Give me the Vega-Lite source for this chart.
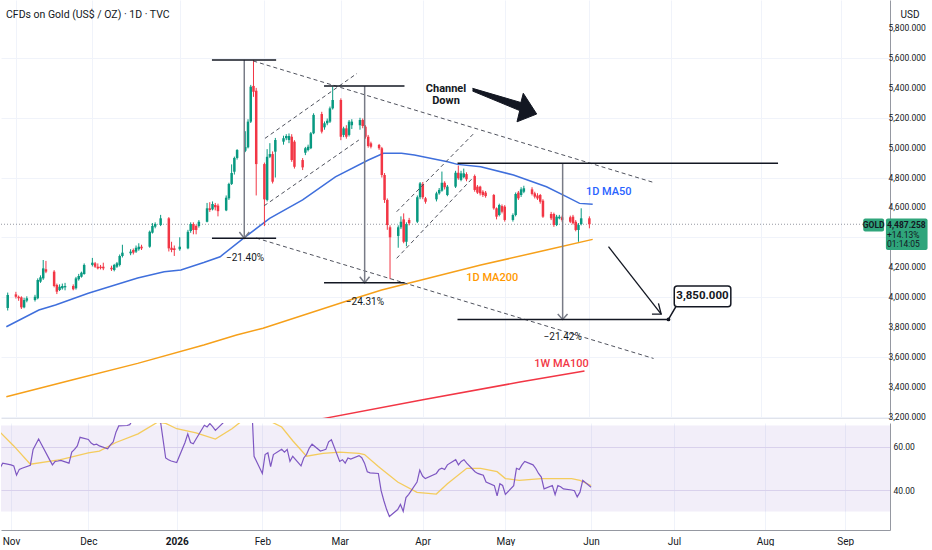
{
  "$schema": "https://vega.github.io/schema/vega-lite/v6.json",
  "padding": 0,
  "background": "#ffffff",
  "spacing": 1,
  "title": {"text": "CFDs on Gold (US$ / OZ) · 1D · TVC", "anchor": "start", "frame": "group", "offset": -20, "dx": 5, "fontSize": 10.5, "fontWeight": "normal", "color": "#131722", "font": "Roboto"},
  "config": {
    "view": {"stroke": null},
    "font": "Roboto",
    "axis": {"labelFont": "Roboto", "labelColor": "#131722", "labelFontSize": 8.5, "labelOverlap": false, "ticks": false, "gridColor": "#f0f3fa", "gridWidth": 1, "domainColor": "#9598a1", "title": null}
  },
  "datasets": {
    "candles": [
      {"t":"2025-10-31T00:00","o":3927,"h":4030,"l":3910,"c":4014},
      {"t":"2025-11-03T00:00","o":4018,"h":4035,"l":3990,"c":4002},
      {"t":"2025-11-04T00:00","o":4002,"h":4010,"l":3975,"c":3992},
      {"t":"2025-11-05T00:00","o":3998,"h":4005,"l":3920,"c":3931},
      {"t":"2025-11-06T00:00","o":3931,"h":3995,"l":3925,"c":3980},
      {"t":"2025-11-07T00:00","o":3976,"h":4005,"l":3965,"c":3992},
      {"t":"2025-11-10T00:00","o":3980,"h":4015,"l":3970,"c":4002},
      {"t":"2025-11-11T00:00","o":3992,"h":4125,"l":3985,"c":4114},
      {"t":"2025-11-12T00:00","o":4103,"h":4145,"l":4095,"c":4132},
      {"t":"2025-11-13T00:00","o":4125,"h":4248,"l":4115,"c":4192},
      {"t":"2025-11-14T00:00","o":4186,"h":4242,"l":4160,"c":4170},
      {"t":"2025-11-17T00:00","o":4170,"h":4180,"l":4065,"c":4074},
      {"t":"2025-11-18T00:00","o":4081,"h":4090,"l":4020,"c":4036},
      {"t":"2025-11-19T00:00","o":4047,"h":4085,"l":4040,"c":4069},
      {"t":"2025-11-20T00:00","o":4059,"h":4090,"l":4050,"c":4074},
      {"t":"2025-11-21T00:00","o":4065,"h":4095,"l":4045,"c":4074},
      {"t":"2025-11-24T00:00","o":4074,"h":4085,"l":4045,"c":4052},
      {"t":"2025-11-25T00:00","o":4059,"h":4135,"l":4050,"c":4125},
      {"t":"2025-11-26T00:00","o":4119,"h":4155,"l":4110,"c":4141},
      {"t":"2025-11-27T00:00","o":4136,"h":4170,"l":4130,"c":4163},
      {"t":"2025-11-28T00:00","o":4154,"h":4225,"l":4150,"c":4215},
      {"t":"2025-12-01T00:00","o":4215,"h":4262,"l":4205,"c":4230},
      {"t":"2025-12-02T00:00","o":4226,"h":4235,"l":4195,"c":4203},
      {"t":"2025-12-03T00:00","o":4203,"h":4225,"l":4185,"c":4192},
      {"t":"2025-12-04T00:00","o":4203,"h":4215,"l":4185,"c":4194},
      {"t":"2025-12-05T00:00","o":4203,"h":4230,"l":4180,"c":4192},
      {"t":"2025-12-08T00:00","o":4196,"h":4210,"l":4175,"c":4186},
      {"t":"2025-12-09T00:00","o":4181,"h":4222,"l":4172,"c":4215},
      {"t":"2025-12-10T00:00","o":4203,"h":4235,"l":4195,"c":4226},
      {"t":"2025-12-11T00:00","o":4215,"h":4285,"l":4205,"c":4275},
      {"t":"2025-12-12T00:00","o":4275,"h":4350,"l":4265,"c":4297},
      {"t":"2025-12-15T00:00","o":4293,"h":4320,"l":4280,"c":4304},
      {"t":"2025-12-16T00:00","o":4315,"h":4325,"l":4285,"c":4297},
      {"t":"2025-12-17T00:00","o":4304,"h":4345,"l":4295,"c":4330},
      {"t":"2025-12-18T00:00","o":4320,"h":4360,"l":4310,"c":4337},
      {"t":"2025-12-19T00:00","o":4337,"h":4350,"l":4315,"c":4326},
      {"t":"2025-12-22T00:00","o":4337,"h":4445,"l":4330,"c":4437},
      {"t":"2025-12-23T00:00","o":4431,"h":4495,"l":4425,"c":4476},
      {"t":"2025-12-24T00:00","o":4471,"h":4500,"l":4460,"c":4489},
      {"t":"2025-12-26T00:00","o":4482,"h":4550,"l":4475,"c":4527},
      {"t":"2025-12-29T00:00","o":4527,"h":4535,"l":4305,"c":4326},
      {"t":"2025-12-30T00:00","o":4330,"h":4370,"l":4300,"c":4315},
      {"t":"2025-12-31T00:00","o":4326,"h":4345,"l":4275,"c":4315},
      {"t":"2026-01-02T00:00","o":4320,"h":4400,"l":4310,"c":4337},
      {"t":"2026-01-05T00:00","o":4326,"h":4450,"l":4320,"c":4437},
      {"t":"2026-01-06T00:00","o":4442,"h":4500,"l":4430,"c":4489},
      {"t":"2026-01-07T00:00","o":4489,"h":4500,"l":4420,"c":4449},
      {"t":"2026-01-08T00:00","o":4476,"h":4485,"l":4420,"c":4449},
      {"t":"2026-01-09T00:00","o":4476,"h":4515,"l":4465,"c":4504},
      {"t":"2026-01-12T00:00","o":4504,"h":4630,"l":4500,"c":4594},
      {"t":"2026-01-13T00:00","o":4594,"h":4635,"l":4570,"c":4583},
      {"t":"2026-01-14T00:00","o":4587,"h":4640,"l":4580,"c":4623},
      {"t":"2026-01-15T00:00","o":4616,"h":4630,"l":4580,"c":4601},
      {"t":"2026-01-16T00:00","o":4612,"h":4625,"l":4540,"c":4575},
      {"t":"2026-01-19T00:00","o":4580,"h":4680,"l":4575,"c":4665},
      {"t":"2026-01-20T00:00","o":4661,"h":4765,"l":4650,"c":4757},
      {"t":"2026-01-21T00:00","o":4757,"h":4888,"l":4750,"c":4830},
      {"t":"2026-01-22T00:00","o":4839,"h":4940,"l":4820,"c":4931},
      {"t":"2026-01-23T00:00","o":4931,"h":4990,"l":4920,"c":4984},
      {"t":"2026-01-26T00:00","o":4979,"h":5110,"l":4970,"c":5004},
      {"t":"2026-01-27T00:00","o":5002,"h":5190,"l":4995,"c":5174},
      {"t":"2026-01-28T00:00","o":5174,"h":5420,"l":5165,"c":5408},
      {"t":"2026-01-29T00:00","o":5413,"h":5587,"l":5340,"c":5374},
      {"t":"2026-01-30T00:00","o":5381,"h":5400,"l":4680,"c":4890},
      {"t":"2026-02-02T00:00","o":4890,"h":4900,"l":4475,"c":4654},
      {"t":"2026-02-03T00:00","o":4650,"h":4990,"l":4640,"c":4939},
      {"t":"2026-02-04T00:00","o":4939,"h":5030,"l":4930,"c":4957},
      {"t":"2026-02-05T00:00","o":4957,"h":4975,"l":4760,"c":4772},
      {"t":"2026-02-06T00:00","o":4973,"h":5065,"l":4800,"c":5051},
      {"t":"2026-02-09T00:00","o":5040,"h":5080,"l":5020,"c":5063},
      {"t":"2026-02-10T00:00","o":5063,"h":5090,"l":5050,"c":5078},
      {"t":"2026-02-11T00:00","o":5051,"h":5095,"l":5030,"c":5078},
      {"t":"2026-02-12T00:00","o":5073,"h":5090,"l":4905,"c":4917},
      {"t":"2026-02-13T00:00","o":5040,"h":5050,"l":4860,"c":4872},
      {"t":"2026-02-16T00:00","o":4917,"h":4930,"l":4850,"c":4868},
      {"t":"2026-02-17T00:00","o":4966,"h":5005,"l":4950,"c":4996},
      {"t":"2026-02-18T00:00","o":4984,"h":5020,"l":4975,"c":5006},
      {"t":"2026-02-19T00:00","o":4996,"h":5105,"l":4990,"c":5096},
      {"t":"2026-02-20T00:00","o":5096,"h":5230,"l":5090,"c":5219},
      {"t":"2026-02-23T00:00","o":5225,"h":5240,"l":5095,"c":5107},
      {"t":"2026-02-24T00:00","o":5136,"h":5175,"l":5120,"c":5163},
      {"t":"2026-02-25T00:00","o":5163,"h":5195,"l":5150,"c":5180},
      {"t":"2026-02-26T00:00","o":5174,"h":5275,"l":5165,"c":5263},
      {"t":"2026-02-27T00:00","o":5263,"h":5408,"l":5255,"c":5319},
      {"t":"2026-03-02T00:00","o":5319,"h":5330,"l":5050,"c":5073},
      {"t":"2026-03-03T00:00","o":5085,"h":5140,"l":5070,"c":5129},
      {"t":"2026-03-04T00:00","o":5129,"h":5150,"l":5060,"c":5073},
      {"t":"2026-03-05T00:00","o":5085,"h":5185,"l":5075,"c":5174},
      {"t":"2026-03-06T00:00","o":5150,"h":5190,"l":5125,"c":5174},
      {"t":"2026-03-09T00:00","o":5150,"h":5200,"l":5120,"c":5185},
      {"t":"2026-03-10T00:00","o":5185,"h":5195,"l":5130,"c":5145},
      {"t":"2026-03-11T00:00","o":5140,"h":5150,"l":5060,"c":5073},
      {"t":"2026-03-12T00:00","o":5073,"h":5085,"l":5000,"c":5011},
      {"t":"2026-03-13T00:00","o":5029,"h":5040,"l":4995,"c":5006},
      {"t":"2026-03-16T00:00","o":5018,"h":5025,"l":4985,"c":4996},
      {"t":"2026-03-17T00:00","o":4996,"h":5005,"l":4800,"c":4817},
      {"t":"2026-03-18T00:00","o":4817,"h":4830,"l":4630,"c":4650},
      {"t":"2026-03-19T00:00","o":4650,"h":4660,"l":4450,"c":4482},
      {"t":"2026-03-20T00:00","o":4467,"h":4480,"l":4120,"c":4400},
      {"t":"2026-03-23T00:00","o":4409,"h":4480,"l":4330,"c":4467},
      {"t":"2026-03-24T00:00","o":4467,"h":4540,"l":4455,"c":4504},
      {"t":"2026-03-25T00:00","o":4520,"h":4560,"l":4360,"c":4370},
      {"t":"2026-03-26T00:00","o":4370,"h":4500,"l":4340,"c":4489},
      {"t":"2026-03-27T00:00","o":4516,"h":4530,"l":4480,"c":4494},
      {"t":"2026-03-30T00:00","o":4504,"h":4680,"l":4495,"c":4668},
      {"t":"2026-03-31T00:00","o":4668,"h":4770,"l":4655,"c":4761},
      {"t":"2026-04-01T00:00","o":4757,"h":4770,"l":4655,"c":4668},
      {"t":"2026-04-02T00:00","o":4661,"h":4670,"l":4625,"c":4638},
      {"t":"2026-04-06T00:00","o":4654,"h":4705,"l":4640,"c":4694},
      {"t":"2026-04-07T00:00","o":4694,"h":4730,"l":4685,"c":4717},
      {"t":"2026-04-08T00:00","o":4712,"h":4840,"l":4705,"c":4765},
      {"t":"2026-04-09T00:00","o":4765,"h":4775,"l":4720,"c":4735},
      {"t":"2026-04-10T00:00","o":4683,"h":4750,"l":4675,"c":4739},
      {"t":"2026-04-13T00:00","o":4739,"h":4845,"l":4730,"c":4832},
      {"t":"2026-04-14T00:00","o":4832,"h":4880,"l":4785,"c":4795},
      {"t":"2026-04-15T00:00","o":4784,"h":4845,"l":4775,"c":4828},
      {"t":"2026-04-16T00:00","o":4802,"h":4860,"l":4795,"c":4828},
      {"t":"2026-04-17T00:00","o":4823,"h":4835,"l":4775,"c":4788},
      {"t":"2026-04-20T00:00","o":4810,"h":4820,"l":4705,"c":4717},
      {"t":"2026-04-21T00:00","o":4739,"h":4750,"l":4690,"c":4699},
      {"t":"2026-04-22T00:00","o":4739,"h":4745,"l":4680,"c":4694},
      {"t":"2026-04-23T00:00","o":4705,"h":4715,"l":4670,"c":4683},
      {"t":"2026-04-24T00:00","o":4699,"h":4710,"l":4665,"c":4676},
      {"t":"2026-04-27T00:00","o":4683,"h":4690,"l":4585,"c":4594},
      {"t":"2026-04-28T00:00","o":4594,"h":4600,"l":4520,"c":4538},
      {"t":"2026-04-29T00:00","o":4549,"h":4625,"l":4540,"c":4616},
      {"t":"2026-04-30T00:00","o":4609,"h":4620,"l":4560,"c":4571},
      {"t":"2026-05-01T00:00","o":4605,"h":4615,"l":4505,"c":4516},
      {"t":"2026-05-04T00:00","o":4516,"h":4560,"l":4505,"c":4549},
      {"t":"2026-05-05T00:00","o":4549,"h":4700,"l":4540,"c":4690},
      {"t":"2026-05-06T00:00","o":4699,"h":4710,"l":4650,"c":4661},
      {"t":"2026-05-07T00:00","o":4683,"h":4735,"l":4670,"c":4721},
      {"t":"2026-05-08T00:00","o":4705,"h":4745,"l":4695,"c":4728},
      {"t":"2026-05-11T00:00","o":4721,"h":4735,"l":4680,"c":4690},
      {"t":"2026-05-12T00:00","o":4694,"h":4705,"l":4660,"c":4672},
      {"t":"2026-05-13T00:00","o":4680,"h":4695,"l":4650,"c":4660},
      {"t":"2026-05-14T00:00","o":4683,"h":4690,"l":4625,"c":4638},
      {"t":"2026-05-15T00:00","o":4645,"h":4655,"l":4530,"c":4538},
      {"t":"2026-05-18T00:00","o":4556,"h":4570,"l":4515,"c":4527},
      {"t":"2026-05-19T00:00","o":4556,"h":4565,"l":4470,"c":4482},
      {"t":"2026-05-20T00:00","o":4482,"h":4550,"l":4475,"c":4538},
      {"t":"2026-05-21T00:00","o":4527,"h":4550,"l":4520,"c":4538},
      {"t":"2026-05-22T00:00","o":4534,"h":4545,"l":4505,"c":4516},
      {"t":"2026-05-25T00:00","o":4534,"h":4545,"l":4495,"c":4504},
      {"t":"2026-05-26T00:00","o":4538,"h":4550,"l":4485,"c":4494},
      {"t":"2026-05-27T00:00","o":4504,"h":4515,"l":4440,"c":4449},
      {"t":"2026-05-28T00:00","o":4449,"h":4495,"l":4370,"c":4482},
      {"t":"2026-05-29T00:00","o":4489,"h":4594,"l":4480,"c":4527},
      {"t":"2026-06-01T00:00","o":4527,"h":4540,"l":4460,"c":4487}
    ],
    "ma50": [
      {"t":"2025-10-30T12:00","p":3801},{"t":"2025-11-11T10:00","p":3913},{"t":"2025-11-17T12:00","p":3947},
      {"t":"2025-11-29T12:00","p":4025},{"t":"2025-12-17T14:00","p":4127},{"t":"2025-12-27T07:00","p":4170},
      {"t":"2026-01-02T10:00","p":4181},{"t":"2026-01-10T19:00","p":4231},{"t":"2026-01-16T19:00","p":4270},
      {"t":"2026-01-25T07:00","p":4393},{"t":"2026-02-03T22:00","p":4527},{"t":"2026-02-16T00:00","p":4650},
      {"t":"2026-02-28T00:00","p":4805},{"t":"2026-03-12T02:00","p":4917},{"t":"2026-03-17T14:00","p":4962},
      {"t":"2026-03-24T05:00","p":4962},{"t":"2026-03-28T22:00","p":4951},{"t":"2026-04-10T02:00","p":4906},
      {"t":"2026-04-13T17:00","p":4888},{"t":"2026-04-22T05:00","p":4872},{"t":"2026-05-04T05:00","p":4817},
      {"t":"2026-05-16T07:00","p":4738},{"t":"2026-05-23T14:00","p":4672},{"t":"2026-05-28T10:00","p":4627},
      {"t":"2026-06-02T05:00","p":4621}
    ],
    "ma200": [
      {"t":"2025-10-30T12:00","p":3333},{"t":"2025-11-23T12:00","p":3445},{"t":"2025-12-17T14:00","p":3556},
      {"t":"2026-01-10T19:00","p":3679},{"t":"2026-01-22T19:00","p":3746},{"t":"2026-02-01T12:00","p":3791},
      {"t":"2026-03-07T07:00","p":3992},{"t":"2026-03-16T22:00","p":4047},{"t":"2026-03-28T22:00","p":4103},
      {"t":"2026-04-22T05:00","p":4214},{"t":"2026-05-16T07:00","p":4315},{"t":"2026-06-02T05:00","p":4386}
    ],
    "ma100w": [
      {"t":"2026-02-08T19:00","p":3137},{"t":"2026-02-23T22:00","p":3188},{"t":"2026-04-01T12:00","p":3314},
      {"t":"2026-05-06T14:00","p":3431},{"t":"2026-05-30T05:00","p":3505}
    ],
    "last": [{"p": 4487.258}],
    "ylabels": [
      {"t":"2026-09-18T12:00","p":3200},{"t":"2026-09-18T12:00","p":3400},{"t":"2026-09-18T12:00","p":3600},
      {"t":"2026-09-18T12:00","p":3800},{"t":"2026-09-18T12:00","p":4000},{"t":"2026-09-18T12:00","p":4200},
      {"t":"2026-09-18T12:00","p":4600},{"t":"2026-09-18T12:00","p":4800},{"t":"2026-09-18T12:00","p":5000},
      {"t":"2026-09-18T12:00","p":5200},{"t":"2026-09-18T12:00","p":5400},{"t":"2026-09-18T12:00","p":5600},
      {"t":"2026-09-18T12:00","p":5800}
    ],
    "lines": [
      {"id":"a1","k":"h","o":1,"t":"2026-01-13T19:00","p":5587},{"id":"a1","k":"h","o":2,"t":"2026-02-06T07:00","p":5587},
      {"id":"a3","k":"h","o":1,"t":"2026-01-13T19:00","p":4393},{"id":"a3","k":"h","o":2,"t":"2026-02-06T07:00","p":4393},
      {"id":"b1","k":"h","o":1,"t":"2026-02-23T20:00","p":5412},{"id":"b1","k":"h","o":2,"t":"2026-03-25T07:00","p":5412},
      {"id":"b3","k":"h","o":1,"t":"2026-02-23T20:00","p":4096},{"id":"b3","k":"h","o":2,"t":"2026-03-25T07:00","p":4096},
      {"id":"c1","k":"h","o":1,"t":"2026-04-13T17:00","p":4895},{"id":"c1","k":"h","o":2,"t":"2026-08-09T02:00","p":4895},
      {"id":"c3","k":"h","o":1,"t":"2026-04-13T17:00","p":3850},{"id":"c3","k":"h","o":2,"t":"2026-06-29T23:00","p":3850},
      {"id":"a2","k":"v","o":1,"t":"2026-01-25T15:00","p":5587},{"id":"a2","k":"v","o":2,"t":"2026-01-25T15:00","p":4393},
      {"id":"a2h","k":"v","o":1,"t":"2026-01-23T20:00","p":4435},{"id":"a2h","k":"v","o":2,"t":"2026-01-25T15:00","p":4393},{"id":"a2h","k":"v","o":3,"t":"2026-01-27T11:00","p":4435},
      {"id":"b2","k":"v","o":1,"t":"2026-03-10T17:00","p":5412},{"id":"b2","k":"v","o":2,"t":"2026-03-10T17:00","p":4096},
      {"id":"b2h","k":"v","o":1,"t":"2026-03-08T22:00","p":4136},{"id":"b2h","k":"v","o":2,"t":"2026-03-10T17:00","p":4096},{"id":"b2h","k":"v","o":3,"t":"2026-03-12T12:00","p":4136},
      {"id":"c2","k":"v","o":1,"t":"2026-05-22T05:00","p":4895},{"id":"c2","k":"v","o":2,"t":"2026-05-22T05:00","p":3850},
      {"id":"c2h","k":"v","o":1,"t":"2026-05-20T10:00","p":3886},{"id":"c2h","k":"v","o":2,"t":"2026-05-22T05:00","p":3850},{"id":"c2h","k":"v","o":3,"t":"2026-05-24T00:00","p":3886},
      {"id":"e1","k":"d","o":1,"t":"2026-01-28T22:00","p":5580},{"id":"e1","k":"d","o":2,"t":"2026-06-24T12:00","p":4767},
      {"id":"e2","k":"d","o":1,"t":"2026-01-30T00:00","p":4395},{"id":"e2","k":"d","o":2,"t":"2026-06-24T12:00","p":3589},
      {"id":"e3","k":"d","o":1,"t":"2026-02-02T05:00","p":5062},{"id":"e3","k":"d","o":2,"t":"2026-03-07T22:00","p":5497},
      {"id":"e4","k":"d","o":1,"t":"2026-02-01T22:00","p":4611},{"id":"e4","k":"d","o":2,"t":"2026-03-08T14:00","p":5051},
      {"id":"e5","k":"d","o":1,"t":"2026-03-22T10:00","p":4571},{"id":"e5","k":"d","o":2,"t":"2026-04-19T14:00","p":5093},
      {"id":"e6","k":"d","o":1,"t":"2026-03-22T10:00","p":4259},{"id":"e6","k":"d","o":2,"t":"2026-04-19T14:00","p":4803},
      {"id":"dl","k":"a","o":1,"t":"2026-06-08T00:00","p":4337},{"id":"dl","k":"a","o":2,"t":"2026-06-27T07:00","p":3886},
      {"id":"dh","k":"a","o":1,"t":"2026-06-23T22:00","p":3886},{"id":"dh","k":"a","o":2,"t":"2026-06-27T07:00","p":3886},{"id":"dh","k":"a","o":3,"t":"2026-06-26T07:00","p":3958}
    ],
    "arrow": [
      {"o":1,"t":"2026-04-19T05:00","p":5397},{"o":2,"t":"2026-05-06T22:00","p":5302},{"o":3,"t":"2026-05-07T19:00","p":5364},
      {"o":4,"t":"2026-05-12T17:00","p":5225},{"o":5,"t":"2026-05-05T12:00","p":5173},{"o":6,"t":"2026-05-06T12:00","p":5248},
      {"o":7,"t":"2026-04-19T05:00","p":5379}
    ],
    "pointer": [
      {"o":1,"t":"2026-06-29T23:00","p":3850},{"o":2,"t":"2026-07-02T19:00","p":3940},{"o":3,"t":"2026-07-06T12:00","p":3940}
    ],
    "box": [{"t1":"2026-07-02T02:00","t2":"2026-07-22T19:00","p1":4074,"p2":3935}],
    "dot": [{"t":"2026-06-29T23:00","p":3850}],
    "labels": [
      {"g":"pct","t":"2026-01-25T22:00","p":4259,"text":"−21.40%"},
      {"g":"pct","t":"2026-03-10T19:00","p":3967,"text":"−24.31%"},
      {"g":"pct","t":"2026-05-22T05:00","p":3734,"text":"−21.42%"},
      {"g":"ch","t":"2026-04-09T12:00","p":5394,"text":"Channel\nDown"},
      {"g":"box","t":"2026-07-12T10:00","p":4005,"text":"3,850.000"},
      {"g":"ma50","t":"2026-06-08T02:00","p":4703,"text":"1D MA50"},
      {"g":"ma200","t":"2026-04-26T10:00","p":4125,"text":"1D MA200"},
      {"g":"ma100","t":"2026-05-21T19:00","p":3552,"text":"1W MA100"}
    ],
    "tagbox": [
      {"g":"price","t1":"2026-09-17T14:00","t2":"2026-10-02T20:00","p1":4526,"p2":4315},
      {"g":"tag","t1":"2026-09-09T07:00","t2":"2026-09-16T22:00","p1":4526,"p2":4439}
    ],
    "tagtext": [
      {"g":"price","t":"2026-09-18T00:00","p":4482,"text":"4,487.258"},
      {"g":"chg","t":"2026-09-18T00:00","p":4418,"text":"+14.13%"},
      {"g":"chg","t":"2026-09-18T00:00","p":4355,"text":"01:14:05"},
      {"g":"tag","t":"2026-09-13T02:00","p":4482,"text":"GOLD"}
    ],
    "band": [{"lo": 30, "hi": 70}],
    "rsi": [
      {"t":"2025-10-30T00:00","v":50.1},{"t":"2025-10-31T00:00","v":52.5},{"t":"2025-11-03T00:00","v":51.7},
      {"t":"2025-11-04T00:00","v":51.2},{"t":"2025-11-05T00:00","v":46.9},{"t":"2025-11-06T00:00","v":49.6},
      {"t":"2025-11-07T00:00","v":50.1},{"t":"2025-11-10T00:00","v":51.5},{"t":"2025-11-11T00:00","v":58.9},
      {"t":"2025-11-12T00:00","v":61.3},{"t":"2025-11-13T00:00","v":63.7},{"t":"2025-11-14T00:00","v":61.3},
      {"t":"2025-11-17T00:00","v":54},{"t":"2025-11-18T00:00","v":51.7},{"t":"2025-11-19T00:00","v":53.3},
      {"t":"2025-11-20T00:00","v":53.5},{"t":"2025-11-21T00:00","v":53.8},{"t":"2025-11-24T00:00","v":52.5},
      {"t":"2025-11-25T00:00","v":57.6},{"t":"2025-11-26T00:00","v":58.9},{"t":"2025-11-27T00:00","v":60.5},
      {"t":"2025-11-28T00:00","v":64.5},{"t":"2025-12-01T00:00","v":63.5},{"t":"2025-12-02T00:00","v":61.8},
      {"t":"2025-12-03T00:00","v":61},{"t":"2025-12-04T00:00","v":61.3},{"t":"2025-12-05T00:00","v":60.5},
      {"t":"2025-12-08T00:00","v":59.2},{"t":"2025-12-09T00:00","v":61},{"t":"2025-12-10T00:00","v":62.4},
      {"t":"2025-12-11T00:00","v":66.9},{"t":"2025-12-12T00:00","v":69.8},{"t":"2025-12-15T00:00","v":70},
      {"t":"2025-12-16T00:00","v":70.4},{"t":"2025-12-17T00:00","v":72.5},{"t":"2025-12-18T00:00","v":74},
      {"t":"2025-12-19T00:00","v":73},{"t":"2025-12-22T00:00","v":78},{"t":"2025-12-23T00:00","v":80},
      {"t":"2025-12-24T00:00","v":81},{"t":"2025-12-26T00:00","v":82},{"t":"2025-12-29T00:00","v":54.9},
      {"t":"2025-12-30T00:00","v":54.1},{"t":"2025-12-31T00:00","v":53.5},{"t":"2026-01-02T00:00","v":52.8},
      {"t":"2026-01-05T00:00","v":62.1},{"t":"2026-01-06T00:00","v":66.1},{"t":"2026-01-07T00:00","v":62.1},
      {"t":"2026-01-08T00:00","v":61.5},{"t":"2026-01-09T00:00","v":63.7},{"t":"2026-01-12T00:00","v":70.1},
      {"t":"2026-01-13T00:00","v":69.3},{"t":"2026-01-14T00:00","v":70.9},{"t":"2026-01-15T00:00","v":69.5},
      {"t":"2026-01-16T00:00","v":67.7},{"t":"2026-01-19T00:00","v":71.5},{"t":"2026-01-20T00:00","v":74},
      {"t":"2026-01-21T00:00","v":77},{"t":"2026-01-22T00:00","v":80},{"t":"2026-01-23T00:00","v":81},
      {"t":"2026-01-26T00:00","v":82},{"t":"2026-01-27T00:00","v":84},{"t":"2026-01-28T00:00","v":87},
      {"t":"2026-01-29T00:00","v":84},{"t":"2026-01-30T00:00","v":55.7},{"t":"2026-02-02T00:00","v":47.7},
      {"t":"2026-02-03T00:00","v":56.5},{"t":"2026-02-04T00:00","v":57.3},{"t":"2026-02-05T00:00","v":50.9},
      {"t":"2026-02-06T00:00","v":56.5},{"t":"2026-02-09T00:00","v":58.9},{"t":"2026-02-10T00:00","v":57.6},
      {"t":"2026-02-11T00:00","v":58.9},{"t":"2026-02-12T00:00","v":53.3},{"t":"2026-02-13T00:00","v":55.7},
      {"t":"2026-02-16T00:00","v":51.2},{"t":"2026-02-17T00:00","v":54.9},{"t":"2026-02-18T00:00","v":56.5},
      {"t":"2026-02-19T00:00","v":59.5},{"t":"2026-02-20T00:00","v":61.3},{"t":"2026-02-23T00:00","v":58.1},
      {"t":"2026-02-24T00:00","v":58.5},{"t":"2026-02-25T00:00","v":58.9},{"t":"2026-02-26T00:00","v":62.4},
      {"t":"2026-02-27T00:00","v":63.4},{"t":"2026-03-02T00:00","v":53.3},{"t":"2026-03-03T00:00","v":54.1},
      {"t":"2026-03-04T00:00","v":52.5},{"t":"2026-03-05T00:00","v":54.9},{"t":"2026-03-06T00:00","v":54.4},
      {"t":"2026-03-09T00:00","v":56},{"t":"2026-03-10T00:00","v":55},{"t":"2026-03-11T00:00","v":52.5},
      {"t":"2026-03-12T00:00","v":48.5},{"t":"2026-03-13T00:00","v":48},{"t":"2026-03-16T00:00","v":47.7},
      {"t":"2026-03-17T00:00","v":39.7},{"t":"2026-03-18T00:00","v":35},{"t":"2026-03-19T00:00","v":30.9},
      {"t":"2026-03-20T00:00","v":27.7},{"t":"2026-03-23T00:00","v":30.9},{"t":"2026-03-24T00:00","v":33.3},
      {"t":"2026-03-25T00:00","v":30.1},{"t":"2026-03-26T00:00","v":36.5},{"t":"2026-03-27T00:00","v":38},
      {"t":"2026-03-30T00:00","v":43.7},{"t":"2026-03-31T00:00","v":49.3},{"t":"2026-04-01T00:00","v":46.5},
      {"t":"2026-04-02T00:00","v":45.3},{"t":"2026-04-06T00:00","v":47.7},{"t":"2026-04-07T00:00","v":49.5},
      {"t":"2026-04-08T00:00","v":50.1},{"t":"2026-04-09T00:00","v":49.5},{"t":"2026-04-10T00:00","v":51.7},
      {"t":"2026-04-13T00:00","v":54.1},{"t":"2026-04-14T00:00","v":51.7},{"t":"2026-04-15T00:00","v":53.3},
      {"t":"2026-04-16T00:00","v":54.1},{"t":"2026-04-17T00:00","v":52.5},{"t":"2026-04-20T00:00","v":48.5},
      {"t":"2026-04-21T00:00","v":47.7},{"t":"2026-04-22T00:00","v":47.3},{"t":"2026-04-23T00:00","v":46.9},
      {"t":"2026-04-24T00:00","v":43.7},{"t":"2026-04-27T00:00","v":42},{"t":"2026-04-28T00:00","v":37.3},
      {"t":"2026-04-29T00:00","v":42.9},{"t":"2026-04-30T00:00","v":42.1},{"t":"2026-05-01T00:00","v":38},
      {"t":"2026-05-04T00:00","v":42},{"t":"2026-05-05T00:00","v":50.1},{"t":"2026-05-06T00:00","v":49.5},
      {"t":"2026-05-07T00:00","v":51.7},{"t":"2026-05-08T00:00","v":53.3},{"t":"2026-05-11T00:00","v":51.7},
      {"t":"2026-05-12T00:00","v":50},{"t":"2026-05-13T00:00","v":47.7},{"t":"2026-05-14T00:00","v":46},
      {"t":"2026-05-15T00:00","v":40.5},{"t":"2026-05-18T00:00","v":42.1},{"t":"2026-05-19T00:00","v":37.8},
      {"t":"2026-05-20T00:00","v":42.1},{"t":"2026-05-21T00:00","v":41.5},{"t":"2026-05-22T00:00","v":40.5},
      {"t":"2026-05-25T00:00","v":40},{"t":"2026-05-26T00:00","v":39.7},{"t":"2026-05-27T00:00","v":36.8},
      {"t":"2026-05-28T00:00","v":39},{"t":"2026-05-29T00:00","v":44.5},{"t":"2026-06-01T00:00","v":41.3}
    ],
    "rsima": [
      {"t":"2025-10-30T00:00","v":66.9},{"t":"2025-11-04T00:00","v":60.5},{"t":"2025-11-10T00:00","v":52},
      {"t":"2025-11-21T00:00","v":54.1},{"t":"2025-12-01T00:00","v":57.3},{"t":"2025-12-05T00:00","v":58.1},
      {"t":"2025-12-11T00:00","v":62.1},{"t":"2025-12-19T00:00","v":66.1},{"t":"2025-12-26T00:00","v":71.5},
      {"t":"2025-12-29T00:00","v":71},{"t":"2026-01-02T00:00","v":68.5},{"t":"2026-01-09T00:00","v":66.6},
      {"t":"2026-01-16T00:00","v":63.7},{"t":"2026-01-22T00:00","v":68.5},{"t":"2026-01-26T00:00","v":72.5},
      {"t":"2026-01-30T00:00","v":77},{"t":"2026-02-04T00:00","v":72.5},{"t":"2026-02-09T00:00","v":69.3},
      {"t":"2026-02-13T00:00","v":62.9},{"t":"2026-02-18T00:00","v":55.7},{"t":"2026-02-24T00:00","v":57},
      {"t":"2026-03-02T00:00","v":57.6},{"t":"2026-03-09T00:00","v":57},{"t":"2026-03-11T00:00","v":56.5},
      {"t":"2026-03-16T00:00","v":50.9},{"t":"2026-03-23T00:00","v":43.7},{"t":"2026-03-30T00:00","v":38.9},
      {"t":"2026-04-06T00:00","v":38.1},{"t":"2026-04-10T00:00","v":42.9},{"t":"2026-04-17T00:00","v":50.1},
      {"t":"2026-04-22T00:00","v":50.1},{"t":"2026-04-28T00:00","v":48.5},{"t":"2026-05-01T00:00","v":45.3},
      {"t":"2026-05-06T00:00","v":44.5},{"t":"2026-05-14T00:00","v":45.3},{"t":"2026-05-25T00:00","v":45.3},
      {"t":"2026-05-28T00:00","v":44.5},{"t":"2026-06-01T00:00","v":42.1}
    ]
  },
  "vconcat": [
    {
      "width": 889,
      "height": 418,
      "layer": [
        {
          "data": {"name": "ma200"},
          "mark": {"type": "line", "color": "#f6a01a", "strokeWidth": 1.5, "clip": true},
          "encoding": {
            "x": {"field": "t", "type": "temporal",
              "scale": {"domain": [{"year": 2025, "month": 10, "date": 30, "hours": 9}, {"year": 2026, "month": 9, "date": 17, "hours": 6}]},
              "axis": {"values": [{"year":2025,"month":11,"date":3},{"year":2025,"month":12,"date":1},{"year":2026,"month":1,"date":2},{"year":2026,"month":2,"date":2},{"year":2026,"month":3,"date":2},{"year":2026,"month":4,"date":1},{"year":2026,"month":5,"date":1},{"year":2026,"month":6,"date":1},{"year":2026,"month":7,"date":1},{"year":2026,"month":8,"date":3},{"year":2026,"month":9,"date":1}],
                "labels": false, "domain": true, "domainColor": "#e0e3eb", "grid": true, "title": null}},
            "y": {"field": "p", "type": "quantitative",
              "scale": {"domain": [3190.5, 5988.2], "nice": false, "zero": false},
              "axis": {"orient": "right", "values": [3200,3400,3600,3800,4000,4200,4400,4600,4800,5000,5200,5400,5600,5800],
                "labels": false, "grid": true, "domain": true,
                "minExtent": 43, "maxExtent": 43,
                "title": "USD", "titleAngle": 0, "titleX": 10, "titleY": 14, "titleAlign": "left", "titleBaseline": "middle",
                "titleFontSize": 10, "titleFontWeight": "normal", "titleColor": "#131722", "titleFont": "Roboto"}}
          }
        },
        {
          "data": {"name": "last"},
          "mark": {"type": "rule", "color": "#9598a1", "strokeDash": [1, 2], "strokeWidth": 1},
          "encoding": {"y": {"field": "p", "type": "quantitative"}}
        },
        {
          "data": {"name": "ma100w"},
          "mark": {"type": "line", "color": "#f23645", "strokeWidth": 1.5, "clip": true},
          "encoding": {"x": {"field": "t", "type": "temporal"}, "y": {"field": "p", "type": "quantitative"}}
        },
        {
          "data": {"name": "ma50"},
          "mark": {"type": "line", "color": "#3f6fdc", "strokeWidth": 1.5, "clip": true},
          "encoding": {"x": {"field": "t", "type": "temporal"}, "y": {"field": "p", "type": "quantitative"}}
        },
        {
          "data": {"name": "candles"},
          "mark": {"type": "rule", "strokeWidth": 1},
          "encoding": {
            "x": {"field": "t", "type": "temporal"},
            "y": {"field": "l", "type": "quantitative"},
            "y2": {"field": "h"},
            "color": {"condition": {"test": "datum.c >= datum.o", "value": "#089981"}, "value": "#f23645"}
          }
        },
        {
          "data": {"name": "candles"},
          "mark": {"type": "bar", "size": 2.5},
          "encoding": {
            "x": {"field": "t", "type": "temporal"},
            "y": {"field": "o", "type": "quantitative"},
            "y2": {"field": "c"},
            "color": {"condition": {"test": "datum.c >= datum.o", "value": "#089981"}, "value": "#f23645"}
          }
        },
        {
          "data": {"name": "lines"},
          "transform": [{"filter": "datum.k == 'd'"}],
          "mark": {"type": "line", "color": "#50535e", "strokeWidth": 1, "strokeDash": [4, 3]},
          "encoding": {"x": {"field": "t", "type": "temporal"}, "y": {"field": "p", "type": "quantitative"}, "detail": {"field": "id"}, "order": {"field": "o"}}
        },
        {
          "data": {"name": "lines"},
          "transform": [{"filter": "datum.k == 'v'"}],
          "mark": {"type": "line", "color": "#787b86", "strokeWidth": 1.5},
          "encoding": {"x": {"field": "t", "type": "temporal"}, "y": {"field": "p", "type": "quantitative"}, "detail": {"field": "id"}, "order": {"field": "o"}}
        },
        {
          "data": {"name": "lines"},
          "transform": [{"filter": "datum.k == 'h'"}],
          "mark": {"type": "line", "color": "#131722", "strokeWidth": 1.5},
          "encoding": {"x": {"field": "t", "type": "temporal"}, "y": {"field": "p", "type": "quantitative"}, "detail": {"field": "id"}, "order": {"field": "o"}}
        },
        {
          "data": {"name": "lines"},
          "transform": [{"filter": "datum.k == 'a'"}],
          "mark": {"type": "line", "color": "#131722", "strokeWidth": 1.3},
          "encoding": {"x": {"field": "t", "type": "temporal"}, "y": {"field": "p", "type": "quantitative"}, "detail": {"field": "id"}, "order": {"field": "o"}}
        },
        {
          "data": {"name": "arrow"},
          "mark": {"type": "line", "color": "#131722", "fill": "#131722", "strokeWidth": 1},
          "encoding": {"x": {"field": "t", "type": "temporal"}, "y": {"field": "p", "type": "quantitative"}, "order": {"field": "o"}}
        },
        {
          "data": {"name": "pointer"},
          "mark": {"type": "line", "color": "#131722", "fill": "#ffffff", "strokeWidth": 1.5},
          "encoding": {"x": {"field": "t", "type": "temporal"}, "y": {"field": "p", "type": "quantitative"}, "order": {"field": "o"}}
        },
        {
          "data": {"name": "box"},
          "mark": {"type": "rect", "fill": "#ffffff", "stroke": "#131722", "strokeWidth": 1.5, "cornerRadius": 3},
          "encoding": {"x": {"field": "t1", "type": "temporal"}, "x2": {"field": "t2"}, "y": {"field": "p1", "type": "quantitative"}, "y2": {"field": "p2"}}
        },
        {
          "data": {"name": "dot"},
          "mark": {"type": "point", "filled": true, "color": "#131722", "size": 14, "opacity": 1},
          "encoding": {"x": {"field": "t", "type": "temporal"}, "y": {"field": "p", "type": "quantitative"}}
        },
        {
          "data": {"name": "labels"},
          "transform": [{"filter": "datum.g == 'pct'"}],
          "mark": {"type": "text", "fontSize": 10, "color": "#131722", "font": "Roboto"},
          "encoding": {"x": {"field": "t", "type": "temporal"}, "y": {"field": "p", "type": "quantitative"}, "text": {"field": "text"}}
        },
        {
          "data": {"name": "labels"},
          "transform": [{"filter": "datum.g == 'ch'"}],
          "mark": {"type": "text", "fontSize": 11, "fontWeight": "bold", "color": "#131722", "font": "Roboto", "lineBreak": "\n", "lineHeight": 12.5},
          "encoding": {"x": {"field": "t", "type": "temporal"}, "y": {"field": "p", "type": "quantitative"}, "text": {"field": "text"}}
        },
        {
          "data": {"name": "labels"},
          "transform": [{"filter": "datum.g == 'box'"}],
          "mark": {"type": "text", "fontSize": 11.5, "fontWeight": "bold", "color": "#131722", "font": "Roboto"},
          "encoding": {"x": {"field": "t", "type": "temporal"}, "y": {"field": "p", "type": "quantitative"}, "text": {"field": "text"}}
        },
        {
          "data": {"name": "labels"},
          "transform": [{"filter": "datum.g == 'ma50'"}],
          "mark": {"type": "text", "fontSize": 11, "fontWeight": 500, "color": "#2962ff", "font": "Roboto"},
          "encoding": {"x": {"field": "t", "type": "temporal"}, "y": {"field": "p", "type": "quantitative"}, "text": {"field": "text"}}
        },
        {
          "data": {"name": "labels"},
          "transform": [{"filter": "datum.g == 'ma200'"}],
          "mark": {"type": "text", "fontSize": 11, "fontWeight": 500, "color": "#ff9800", "font": "Roboto"},
          "encoding": {"x": {"field": "t", "type": "temporal"}, "y": {"field": "p", "type": "quantitative"}, "text": {"field": "text"}}
        },
        {
          "data": {"name": "labels"},
          "transform": [{"filter": "datum.g == 'ma100'"}],
          "mark": {"type": "text", "fontSize": 11, "fontWeight": 500, "color": "#f23645", "font": "Roboto"},
          "encoding": {"x": {"field": "t", "type": "temporal"}, "y": {"field": "p", "type": "quantitative"}, "text": {"field": "text"}}
        },
        {
          "data": {"name": "ylabels"},
          "mark": {"type": "text", "fontSize": 8.5, "color": "#131722", "align": "left", "baseline": "middle", "font": "Roboto"},
          "encoding": {"x": {"field": "t", "type": "temporal"}, "y": {"field": "p", "type": "quantitative"}, "text": {"field": "p", "type": "quantitative", "format": ",.3f"}}
        },
        {
          "data": {"name": "tagbox"},
          "mark": {"type": "rect", "fill": "#2fa57b", "cornerRadius": 2},
          "encoding": {"x": {"field": "t1", "type": "temporal"}, "x2": {"field": "t2"}, "y": {"field": "p1", "type": "quantitative"}, "y2": {"field": "p2"}}
        },
        {
          "data": {"name": "tagtext"},
          "transform": [{"filter": "datum.g == 'price'"}],
          "mark": {"type": "text", "fontSize": 8.5, "fontWeight": "bold", "color": "#131722", "align": "left", "font": "Roboto"},
          "encoding": {"x": {"field": "t", "type": "temporal"}, "y": {"field": "p", "type": "quantitative"}, "text": {"field": "text"}}
        },
        {
          "data": {"name": "tagtext"},
          "transform": [{"filter": "datum.g == 'chg'"}],
          "mark": {"type": "text", "fontSize": 8.5, "color": "#131722", "align": "left", "font": "Roboto"},
          "encoding": {"x": {"field": "t", "type": "temporal"}, "y": {"field": "p", "type": "quantitative"}, "text": {"field": "text"}}
        },
        {
          "data": {"name": "tagtext"},
          "transform": [{"filter": "datum.g == 'tag'"}],
          "mark": {"type": "text", "fontSize": 8.5, "fontWeight": "bold", "color": "#131722", "font": "Roboto"},
          "encoding": {"x": {"field": "t", "type": "temporal"}, "y": {"field": "p", "type": "quantitative"}, "text": {"field": "text"}}
        }
      ]
    },
    {
      "width": 889,
      "height": 107,
      "layer": [
        {
          "data": {"name": "band"},
          "mark": {"type": "rect", "color": "#7e57c2", "opacity": 0.1},
          "encoding": {
            "y": {"field": "lo", "type": "quantitative",
              "scale": {"domain": [21.4, 71.16], "nice": false, "zero": false},
              "axis": {"orient": "right", "values": [40, 60], "format": ".2f", "grid": true, "gridColor": "#e4dff1", "domain": true,
                "labelPadding": 3, "labelAlign": "left", "minExtent": 43, "maxExtent": 43, "title": null}},
            "y2": {"field": "hi"}
          }
        },
        {
          "data": {"name": "rsima"},
          "mark": {"type": "line", "color": "#f4c542", "strokeWidth": 1.3, "opacity": 0.85, "clip": true},
          "encoding": {
            "x": {"field": "t", "type": "temporal",
              "scale": {"domain": [{"year": 2025, "month": 10, "date": 30, "hours": 9}, {"year": 2026, "month": 9, "date": 17, "hours": 6}]},
              "axis": {"values": [{"year":2025,"month":11,"date":3},{"year":2025,"month":12,"date":1},{"year":2026,"month":1,"date":2},{"year":2026,"month":2,"date":2},{"year":2026,"month":3,"date":2},{"year":2026,"month":4,"date":1},{"year":2026,"month":5,"date":1},{"year":2026,"month":6,"date":1},{"year":2026,"month":7,"date":1},{"year":2026,"month":8,"date":3},{"year":2026,"month":9,"date":1}],
                "labelExpr": "month(datum.value) == 0 ? timeFormat(datum.value, '%Y') : timeFormat(datum.value, '%b')",
                "labelFontWeight": {"condition": {"test": "month(datum.value) == 0", "value": "bold"}, "value": "normal"},
                "labelFontSize": 10, "labelPadding": 6, "labelFlush": false,
                "grid": true, "domain": true, "title": null}},
            "y": {"field": "v", "type": "quantitative"}
          }
        },
        {
          "data": {"name": "rsi"},
          "mark": {"type": "line", "color": "#7e57c2", "strokeWidth": 1.2, "clip": true},
          "encoding": {"x": {"field": "t", "type": "temporal"}, "y": {"field": "v", "type": "quantitative"}}
        }
      ]
    }
  ]
}
